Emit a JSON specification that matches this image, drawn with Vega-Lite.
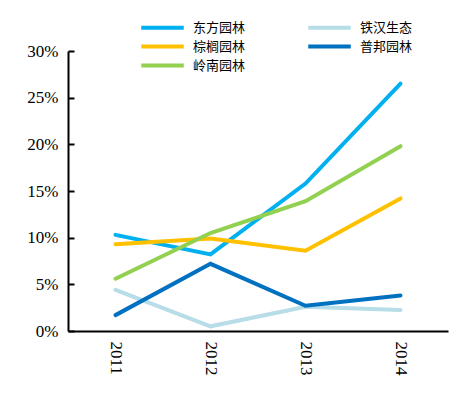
{
  "$schema": "https://vega.github.io/schema/vega-lite/v6.json",
  "width": 380,
  "height": 280,
  "autosize": {"type": "none"},
  "padding": {"left": 68, "top": 51, "right": 3, "bottom": 65},
  "background": "white",
  "data": {
    "values": [
      {"year": "2011", "company": "东方园林", "value": 0.103},
      {"year": "2012", "company": "东方园林", "value": 0.082},
      {"year": "2013", "company": "东方园林", "value": 0.158},
      {"year": "2014", "company": "东方园林", "value": 0.265},
      {"year": "2011", "company": "铁汉生态", "value": 0.044},
      {"year": "2012", "company": "铁汉生态", "value": 0.005},
      {"year": "2013", "company": "铁汉生态", "value": 0.026},
      {"year": "2014", "company": "铁汉生态", "value": 0.0225},
      {"year": "2011", "company": "棕榈园林", "value": 0.093},
      {"year": "2012", "company": "棕榈园林", "value": 0.099},
      {"year": "2013", "company": "棕榈园林", "value": 0.086},
      {"year": "2014", "company": "棕榈园林", "value": 0.142},
      {"year": "2011", "company": "普邦园林", "value": 0.017},
      {"year": "2012", "company": "普邦园林", "value": 0.072},
      {"year": "2013", "company": "普邦园林", "value": 0.027},
      {"year": "2014", "company": "普邦园林", "value": 0.038},
      {"year": "2011", "company": "岭南园林", "value": 0.056},
      {"year": "2012", "company": "岭南园林", "value": 0.105},
      {"year": "2013", "company": "岭南园林", "value": 0.139},
      {"year": "2014", "company": "岭南园林", "value": 0.198}
    ]
  },
  "mark": {"type": "line", "strokeWidth": 4, "strokeCap": "round", "strokeJoin": "miter"},
  "encoding": {
    "x": {
      "field": "year",
      "type": "ordinal",
      "scale": {"type": "point", "padding": 0.5},
      "axis": {
        "title": null,
        "labelAngle": 90,
        "labelFont": "Liberation Serif",
        "labelFontSize": 17,
        "labelColor": "black",
        "labelPadding": 10,
        "ticks": false,
        "domainColor": "black",
        "domainWidth": 2,
        "grid": false
      }
    },
    "y": {
      "field": "value",
      "type": "quantitative",
      "scale": {"domain": [0, 0.3], "nice": false},
      "axis": {
        "title": null,
        "format": ".0%",
        "values": [0, 0.05, 0.1, 0.15, 0.2, 0.25, 0.3],
        "labelFont": "Liberation Serif",
        "labelFontSize": 17,
        "labelColor": "black",
        "labelPadding": 16,
        "tickSize": -6,
        "tickColor": "black",
        "tickWidth": 2,
        "domainColor": "black",
        "domainWidth": 2,
        "grid": false
      }
    },
    "color": {
      "field": "company",
      "type": "nominal",
      "scale": {
        "domain": ["东方园林", "棕榈园林", "岭南园林", "铁汉生态", "普邦园林"],
        "range": ["#00B0F0", "#FFC000", "#92D050", "#B7DDE8", "#0070C0"]
      },
      "legend": {
        "title": null,
        "orient": "none",
        "legendX": 84,
        "legendY": -34,
        "columns": 2,
        "symbolType": "M-2.5,0H2.5",
        "symbolSize": 289,
        "symbolStrokeWidth": 4,
        "labelFont": "Liberation Serif, Noto Sans CJK SC",
        "labelFontSize": 13,
        "labelColor": "black",
        "labelOffset": 20,
        "columnPadding": 54,
        "rowPadding": 0
      }
    }
  },
  "config": {"view": {"stroke": null}}
}
